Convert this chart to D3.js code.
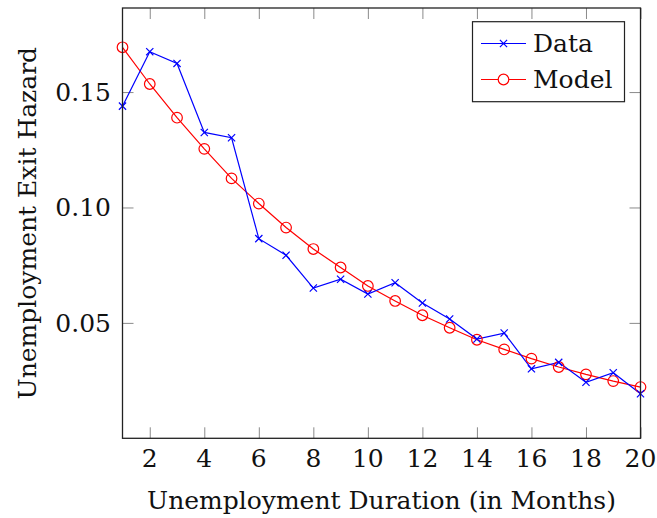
<!DOCTYPE html>
<html><head><meta charset="utf-8">
<script src="https://cdn.jsdelivr.net/npm/d3@7/dist/d3.min.js"></script>
<style>body{margin:0;background:#fff}svg{display:block}</style>
</head><body>
<svg id="chart" width="657" height="518"></svg>
<script>
const months = [1,2,3,4,5,6,7,8,9,10,11,12,13,14,15,16,17,18,19,20];
const dataValues = [0.1439,0.1675,0.1624,0.1325,0.1302,0.0865,0.0793,0.0651,0.0689,0.0625,
                    0.0674,0.0586,0.0517,0.0430,0.0456,0.0301,0.0329,0.0243,0.0284,0.0193];
const modelValues = [0.1694,0.1535,0.1389,0.1254,0.1126,0.1017,0.0913,0.0820,0.0740,0.0660,
                     0.0595,0.0533,0.0479,0.0427,0.0385,0.0345,0.0309,0.0277,0.0248,0.0222];
const xTicks = [2,4,6,8,10,12,14,16,18,20];
const yTicks = [0.05,0.10,0.15];
const seriesNames = ["Data","Model"];
const xTitle = "Unemployment Duration (in Months)";
const yTitle = "Unemployment Exit Hazard";

const W = 657, H = 518;
const margin = {left:122.5, right:16.5, top:8, bottom:79.7};
const font = "'DejaVu Serif', serif";
const fs = 25;
const svg = d3.select("#chart");
const x = d3.scaleLinear().domain([1,20]).range([margin.left, W - margin.right]);
const y = d3.scaleLinear().domain([0, 0.18642]).range([H - margin.bottom, margin.top]);
const tickLen = 11;
const tickColor = "#8a8a8a";

// ticks (inward, on all four sides)
const g = svg.append("g");
const bottomAxis = d3.axisBottom(x).tickValues(xTicks).tickSizeInner(-tickLen).tickSizeOuter(0).tickFormat("");
const topAxis = d3.axisTop(x).tickValues(xTicks).tickSizeInner(-tickLen).tickSizeOuter(0).tickFormat("");
const leftAxis = d3.axisLeft(y).tickValues(yTicks).tickSizeInner(-tickLen).tickSizeOuter(0).tickFormat("");
const rightAxis = d3.axisRight(y).tickValues(yTicks).tickSizeInner(-tickLen).tickSizeOuter(0).tickFormat("");
[[bottomAxis,`translate(0,${y.range()[0]})`],[topAxis,`translate(0,${y.range()[1]})`],
 [leftAxis,`translate(${x.range()[0]},0)`],[rightAxis,`translate(${x.range()[1]},0)`]].forEach(([ax,tr])=>{
  const a = g.append("g").attr("transform",tr).call(ax);
  a.select(".domain").remove();
  a.selectAll(".tick line").attr("stroke",tickColor).attr("stroke-width",1);
});

// tick labels
svg.append("g").selectAll("text").data(xTicks).join("text")
  .attr("x", d=>x(d)).attr("y", 467).attr("text-anchor","middle")
  .attr("font-family",font).attr("font-size",fs).attr("fill","#111").text(d=>d);
svg.append("g").selectAll("text").data(yTicks).join("text")
  .attr("x", 111).attr("y", d=>y(d)+9).attr("text-anchor","end")
  .attr("font-family",font).attr("font-size",fs).attr("fill","#111").text(d=>d3.format(".2f")(d));

// axis titles
svg.append("text").attr("x",(x.range()[0]+x.range()[1])/2).attr("y",509).attr("text-anchor","middle")
  .attr("font-family",font).attr("font-size",fs).attr("fill","#111").text(xTitle);
svg.append("text").attr("transform",`translate(36,${(y.range()[0]+y.range()[1])/2}) rotate(-90)`)
  .attr("text-anchor","middle").attr("font-family",font).attr("font-size",fs).attr("fill","#111").text(yTitle);

// lines
const line = d3.line().x((d,i)=>x(months[i])).y(d=>y(d));
svg.append("path").datum(modelValues).attr("d",line).attr("fill","none").attr("stroke","#ff0000").attr("stroke-width",1.2);
svg.append("path").datum(dataValues).attr("d",line).attr("fill","none").attr("stroke","#0000ff").attr("stroke-width",1.2);

function cross(sel, cx, cy, s, color){
  sel.append("path").attr("d",`M${cx-s},${cy-s}L${cx+s},${cy+s}M${cx-s},${cy+s}L${cx+s},${cy-s}`)
    .attr("stroke",color).attr("stroke-width",1.2).attr("fill","none");
}
const marks = svg.append("g");
modelValues.forEach((v,i)=>{
  marks.append("circle").attr("cx",x(months[i])).attr("cy",y(v)).attr("r",5.3)
    .attr("fill","none").attr("stroke","#ff0000").attr("stroke-width",1.2);
});
dataValues.forEach((v,i)=>cross(marks, x(months[i]), y(v), 3.6, "#0000ff"));

// frame
svg.append("rect").attr("x",x.range()[0]).attr("y",y.range()[1])
  .attr("width",x.range()[1]-x.range()[0]).attr("height",y.range()[0]-y.range()[1])
  .attr("fill","none").attr("stroke","#222").attr("stroke-width",1.3);

// legend
const lg = svg.append("g");
lg.append("rect").attr("x",472.5).attr("y",21.7).attr("width",152).attr("height",80)
  .attr("fill","#fff").attr("stroke","#222").attr("stroke-width",1.2);
const rows = [{name:seriesNames[0],color:"#0000ff",cy:43.5},{name:seriesNames[1],color:"#ff0000",cy:79.5}];
rows.forEach((r,i)=>{
  lg.append("line").attr("x1",481).attr("x2",526).attr("y1",r.cy).attr("y2",r.cy).attr("stroke",r.color).attr("stroke-width",1.2);
  if(i===0) cross(lg, 503.5, r.cy, 3.6, r.color);
  else lg.append("circle").attr("cx",503.5).attr("cy",r.cy).attr("r",5.3).attr("fill","#fff").attr("stroke",r.color).attr("stroke-width",1.2);
  lg.append("text").attr("x",533).attr("y",r.cy+8.5).attr("font-family",font).attr("font-size",fs)
    .attr("fill","#111").text(r.name);
});
</script>
</body></html>
